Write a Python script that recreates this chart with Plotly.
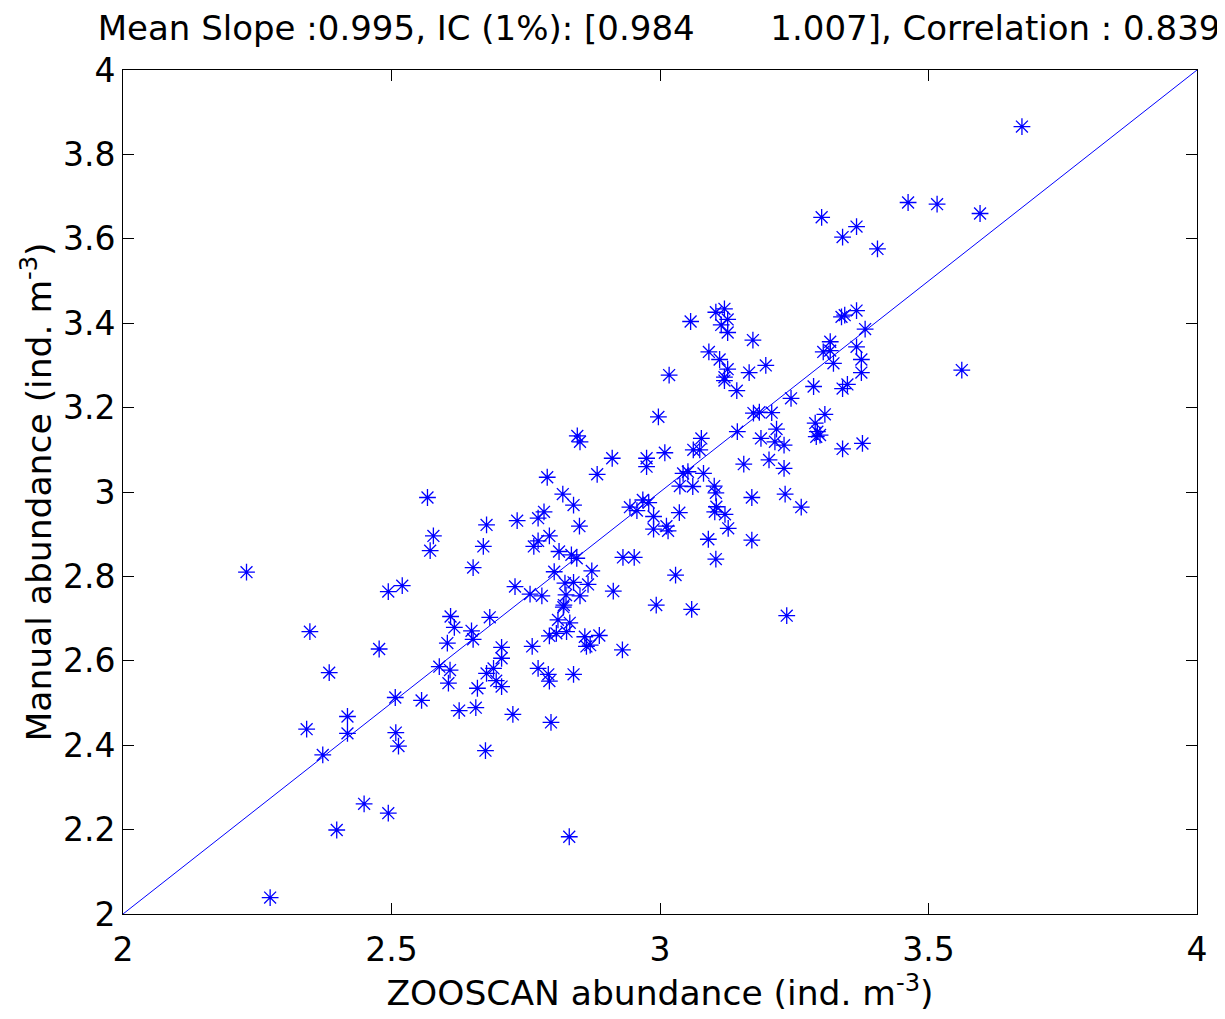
import plotly.graph_objects as go

# ZOOSCAN abundance (x) and Manual abundance (y), log10 ind. m-3
zooscan = [
    3.674, 3.462, 3.516, 3.596, 3.301, 3.366, 3.340, 3.405, 3.338, 3.344,
    3.366, 3.382, 3.317, 3.304, 3.317, 3.323, 3.366, 3.375, 3.375, 3.562,
    3.340, 3.349, 3.307, 3.298, 3.340, 3.377, 3.057, 3.104, 3.120, 3.126,
    3.114, 3.126, 3.173, 3.091, 3.111, 3.126, 3.120, 3.120, 3.166, 3.197,
    3.017, 3.143, 3.286, 3.244, 2.997, 3.174, 3.185, 3.208, 3.289, 3.293,
    3.291, 3.144, 3.217, 3.188, 3.214, 3.231, 3.077, 3.062, 3.074, 3.009,
    2.975, 2.975, 3.203, 3.156, 3.231, 3.081, 3.043, 3.052, 3.037, 3.061,
    3.101, 3.104, 3.171, 3.233, 3.263, 3.105, 3.102, 3.121, 3.036, 2.968,
    2.979, 2.944, 2.957, 2.988, 2.988, 3.012, 3.015, 3.127, 3.090, 3.171,
    2.931, 2.952, 3.104, 3.029, 2.993, 3.059, 3.236, 2.846, 2.851, 2.911,
    2.883, 2.790, 2.819, 2.839, 2.567, 2.784, 2.773, 2.734, 2.677, 2.850,
    2.578, 2.794, 2.773, 2.765, 2.671, 2.572, 2.812, 2.835, 2.845, 2.652,
    2.803, 2.873, 2.730, 2.758, 2.780, 2.823, 2.839, 2.866, 2.825, 2.851,
    2.913, 2.821, 2.820, 2.810, 2.832, 2.826, 2.807, 2.794, 2.860, 2.887,
    2.870, 2.863, 2.930, 2.610, 2.683, 2.617, 2.649, 2.652, 2.604, 2.705,
    2.762, 2.705, 2.589, 2.609, 2.606, 2.556, 2.677, 2.690, 2.695, 2.705,
    2.660, 2.773, 2.792, 2.794, 2.839, 2.626, 2.657, 2.726, 2.797, 2.675,
    2.831, 2.348, 2.477, 2.384, 2.507, 2.418, 2.418, 2.342, 2.508, 2.513,
    2.372, 2.449, 2.494, 2.398, 2.274, 2.230, 2.494, 2.520,
]
manual = [
    3.866, 3.686, 3.682, 3.660, 3.651, 3.629, 3.604, 3.576, 3.415, 3.419,
    3.430, 3.386, 3.356, 3.332, 3.335, 3.305, 3.344, 3.314, 3.283, 3.289,
    3.245, 3.255, 3.184, 3.135, 3.102, 3.115, 3.404, 3.426, 3.434, 3.409,
    3.396, 3.378, 3.360, 3.332, 3.314, 3.291, 3.272, 3.264, 3.283, 3.300,
    3.277, 3.240, 3.250, 3.222, 3.178, 3.187, 3.189, 3.188, 3.163, 3.143,
    3.131, 3.143, 3.149, 3.127, 3.119, 3.111, 3.127, 3.100, 3.100, 3.093,
    3.080, 3.060, 3.076, 3.066, 3.056, 3.044, 3.044, 3.048, 3.014, 3.013,
    3.014, 2.998, 2.987, 2.995, 2.964, 2.965, 2.953, 2.947, 2.951, 2.981,
    2.975, 2.964, 2.956, 2.942, 2.912, 2.919, 2.908, 2.914, 2.888, 2.886,
    2.845, 2.845, 2.841, 2.803, 2.732, 2.722, 2.707, 3.133, 3.119, 3.080,
    3.042, 3.035, 2.995, 2.969, 2.987, 2.953, 2.938, 2.932, 2.922, 2.919,
    2.896, 2.896, 2.884, 2.871, 2.871, 2.861, 2.859, 2.851, 2.843, 2.821,
    2.811, 2.813, 2.776, 2.758, 2.754, 2.784, 2.786, 2.781, 2.756, 2.754,
    2.765, 2.732, 2.727, 2.697, 2.690, 2.669, 2.665, 2.659, 2.657, 2.660,
    2.637, 2.634, 2.626, 2.705, 2.703, 2.679, 2.671, 2.651, 2.642, 2.632,
    2.634, 2.606, 2.586, 2.578, 2.547, 2.506, 2.570, 2.582, 2.553, 2.539,
    2.535, 2.582, 2.568, 2.552, 2.568, 2.482, 2.489, 2.473, 2.454, 2.387,
    2.183, 2.669, 2.628, 2.572, 2.513, 2.468, 2.428, 2.438, 2.430, 2.398,
    2.377, 2.261, 2.239, 2.199, 2.039, 2.810, 2.764, 2.778,
]

identity_line = [2, 4]
x_ticks = [2, 2.5, 3, 3.5, 4]
y_ticks = [2, 2.2, 2.4, 2.6, 2.8, 3, 3.2, 3.4, 3.6, 3.8, 4]

title_text = ("Mean Slope :0.995, IC (1%): [0.984" + "\u00a0" * 7
              + "1.007], Correlation : 0.839")

FONT = "DejaVu Sans, Liberation Sans, Arial, sans-serif"
BLUE = "rgb(0,0,255)"

fig = go.Figure()
fig.add_trace(go.Scatter(
    x=identity_line, y=identity_line, mode="lines",
    line=dict(color=BLUE, width=1), hoverinfo="skip", showlegend=False,
))
fig.add_trace(go.Scatter(
    x=zooscan, y=manual, mode="markers",
    marker=dict(symbol="asterisk-open", size=14, color=BLUE,
                line=dict(color=BLUE, width=1.3)),
    showlegend=False,
))

axis_common = dict(
    showgrid=False, zeroline=False, showline=True, linecolor="black",
    linewidth=1, mirror="ticks", ticks="inside", ticklen=11,
    tickcolor="black", tickwidth=1,
    tickfont=dict(family=FONT, size=33, color="black"),
)

fig.update_layout(
    width=1217, height=1011,
    margin=dict(l=115, r=28, t=62, b=105),
    paper_bgcolor="white", plot_bgcolor="white",
    title=dict(text=title_text, x=0.535, xanchor="center", y=0.992,
               yanchor="top", font=dict(family=FONT, size=34, color="black")),
    xaxis=dict(range=[2, 4], tickvals=x_ticks,
               ticktext=[f"{v:g}" for v in x_ticks],
               ticklabelstandoff=6,
               title=dict(text="ZOOSCAN abundance (ind. m<sup>-3</sup>)",
                          font=dict(family=FONT, size=34.5, color="black"),
                          standoff=12),
               **axis_common),
    yaxis=dict(range=[2, 4], tickvals=y_ticks,
               ticktext=[f"{v:g}" for v in y_ticks],
               title=dict(text="Manual abundance (ind. m<sup>-3</sup>)",
                          font=dict(family=FONT, size=34.5, color="black"),
                          standoff=0),
               **axis_common),
)

fig.write_html("out.html")
